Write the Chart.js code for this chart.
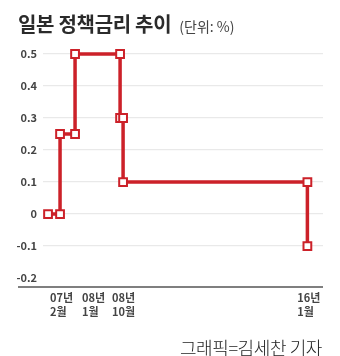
<!DOCTYPE html>
<html><head><meta charset="utf-8">
<script src="https://cdn.jsdelivr.net/npm/chart.js@4/dist/chart.umd.min.js"></script>
<style>
html,body{margin:0;padding:0;background:#fff;}
#wrap{position:relative;width:340px;height:356px;overflow:hidden;font-family:"Noto Sans CJK KR","Noto Sans",sans-serif;}
#title{position:absolute;left:18px;top:10px;font-size:20px;font-weight:700;color:#2b2b2b;letter-spacing:-0.3px;white-space:nowrap;line-height:28px;}
#title span{font-size:14px;font-weight:400;color:#444;letter-spacing:0;margin-left:8px;}
#credit{position:absolute;right:18px;top:335px;font-size:18px;font-weight:300;color:#222;white-space:nowrap;line-height:24px;letter-spacing:-0.4px;}
canvas{position:absolute;left:0;top:0;}
</style></head>
<body>
<div id="wrap">
<canvas id="c" width="340" height="356"></canvas>
<div id="title">일본 정책금리 추이<span>(단위: %)</span></div>
<div id="credit">그래픽=김세찬 기자</div>
</div>
<script>
// schematic horizontal positions of the step points (not to time scale in the original)
const stepX = [0, 1, 1, 2.25, 2.25, 6, 6, 6.25, 6.25, 21.6, 21.6];
// policy rate (%)
const rates = [0, 0, 0.25, 0.25, 0.5, 0.5, 0.3, 0.3, 0.1, 0.1, -0.1];
// x tick labels and their positions
const tickPos = [0.17, 2.83, 5.33, 20.75];
const tickLabels = [["07년", "2월"], ["08년", "1월"], ["08년", "10월"], ["16년", "1월"]];
const yTicks = [-0.2, -0.1, 0, 0.1, 0.2, 0.3, 0.4, 0.5];

const red = '#cc2129';
const baseLine = {
  id: 'baseLine',
  afterDraw(chart) {
    const {ctx, chartArea} = chart;
    ctx.save();
    ctx.strokeStyle = '#555';
    ctx.lineWidth = 1.5;
    ctx.beginPath();
    ctx.moveTo(18, chartArea.bottom);
    ctx.lineTo(chartArea.right, chartArea.bottom);
    ctx.stroke();
    ctx.restore();
  }
};

new Chart(document.getElementById('c'), {
  type: 'line',
  data: {
    datasets: [{
      data: stepX.map((x, i) => ({x: x, y: rates[i]})),
      borderColor: red,
      borderWidth: 3.5,
      pointStyle: 'rect',
      pointRadius: 5.5,
      pointBorderWidth: 2,
      pointBackgroundColor: '#fff',
      pointBorderColor: red,
      tension: 0,
      clip: false
    }]
  },
  options: {
    responsive: false,
    animation: false,
    events: [],
    layout: {padding: {top: 54, right: 17, left: 0, bottom: 0}},
    plugins: {legend: {display: false}, tooltip: {enabled: false}},
    scales: {
      x: {
        type: 'linear',
        min: -0.42,
        max: 22.9,
        afterBuildTicks(scale) { scale.ticks = tickPos.map(v => ({value: v})); },
        afterFit(scale) { scale.height = 69; },
        grid: {display: false, drawTicks: false},
        border: {display: false},
        ticks: {
          autoSkip: false,
          maxRotation: 0,
          align: 'start',
          padding: 4,
          color: '#444',
          font: {family: '"Noto Sans CJK KR"', size: 11, weight: '600', lineHeight: 1.27},
          callback: (v, i) => tickLabels[i]
        }
      },
      y: {
        min: -0.228,
        max: 0.5,
        afterBuildTicks(scale) { scale.ticks = yTicks.map(v => ({value: v})); },
        afterFit(scale) { scale.width = 43; },
        grid: {
          drawTicks: false,
          color: c => (c.tick && c.tick.value === -0.2) ? 'rgba(0,0,0,0)' : '#e9e9e9',
          lineWidth: 1.2
        },
        border: {display: false},
        ticks: {
          padding: 6,
          color: '#444',
          font: {family: '"Noto Sans CJK KR"', size: 11, weight: '600'},
          callback: v => v === 0 ? '0' : v.toFixed(1)
        }
      }
    }
  },
  plugins: [baseLine]
});
</script>
</body></html>
